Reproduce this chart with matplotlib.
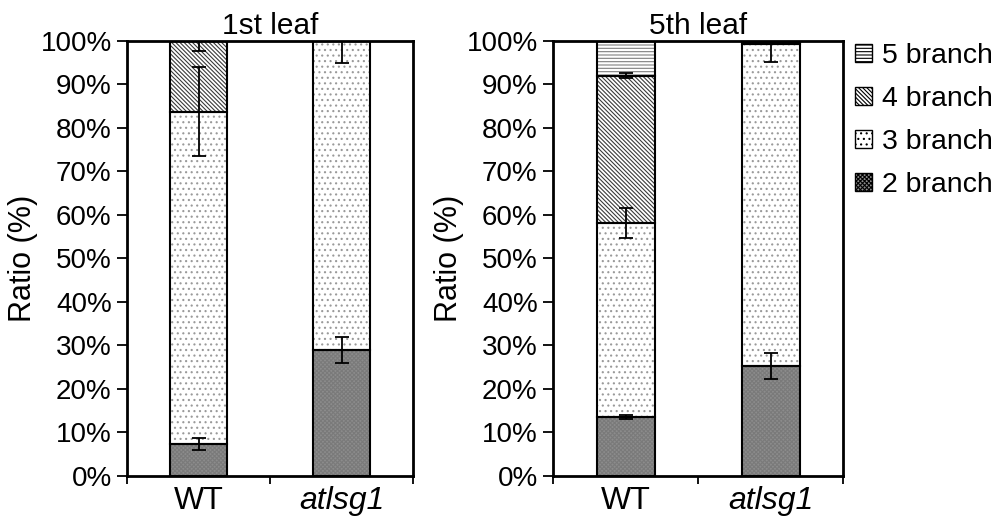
import numpy as np
import matplotlib
matplotlib.use("Agg")
import matplotlib.pyplot as plt
from matplotlib.patches import Patch

plt.rcParams['font.family'] = ['Liberation Sans', 'DejaVu Sans']
plt.rcParams['hatch.linewidth'] = 0.8

# datos (porcentaje por tipo de ramificacion)
categorias = ['WT', 'atlsg1']
series = ['2 branch', '3 branch', '4 branch', '5 branch']

hoja1 = {
    '2 branch': [7.3, 29.0],
    '3 branch': [76.4, 71.0],
    '4 branch': [16.3, 0.0],
    '5 branch': [0.0, 0.0],
}
hoja1_err = {
    '2 branch': [1.4, 3.0],
    '3 branch': [10.2, 5.0],
    '4 branch': [2.4, 0.0],
    '5 branch': [0.0, 0.0],
}
hoja5 = {
    '2 branch': [13.5, 25.3],
    '3 branch': [44.7, 74.0],
    '4 branch': [33.8, 0.4],
    '5 branch': [8.0, 0.3],
}
hoja5_err = {
    '2 branch': [0.5, 3.0],
    '3 branch': [3.5, 4.2],
    '4 branch': [0.6, 0.0],
    '5 branch': [0.0, 0.0],
}

estilos = {
    '2 branch': dict(fc='#8c8c8c', hatch='xxxxxxxx', hc='#7a7a7a'),
    '3 branch': dict(fc='white', hatch='...', hc='#9a9a9a'),
    '4 branch': dict(fc='white', hatch='\\' * 8, hc='#3a3a3a'),
    '5 branch': dict(fc='white', hatch='-----', hc='#808080'),
}

fig = plt.figure(figsize=(10, 5.21), dpi=100)
ax1 = fig.add_axes([0.127, 0.0864, 0.286, 0.835])
ax2 = fig.add_axes([0.553, 0.0864, 0.290, 0.835])

x = np.arange(len(categorias))
ancho = 0.4


def dibujar(ax, datos, errores, titulo):
    base = np.zeros(len(categorias))
    for s in series:
        v = np.array(datos[s])
        e = np.array(errores[s])
        st = estilos[s]
        # relleno con trama de color
        ax.bar(x, v, ancho, bottom=base, color=st['fc'], edgecolor=st['hc'],
               hatch=st['hatch'], linewidth=0, zorder=2)
        # contorno negro
        ax.bar(x, v, ancho, bottom=base, color='none', edgecolor='black',
               linewidth=1.5, zorder=3)
        tope = base + v
        mask = e > 0
        ax.errorbar(x[mask], tope[mask], yerr=e[mask], fmt='none', ecolor='black',
                    elinewidth=1.3, capsize=5, capthick=1.3, zorder=4)
        base = tope
    ax.set_xlim(-0.5, 1.5)
    ax.set_ylim(0, 100)
    ax.set_yticks(np.arange(0, 101, 10))
    ax.set_yticklabels([f'{t}%' for t in range(0, 101, 10)], fontsize=20)
    ax.set_xticks(x)
    ax.set_xticklabels(categorias, fontsize=23)
    ax.get_xticklabels()[1].set_style('italic')
    ax.tick_params(axis='x', which='major', length=0, pad=7)
    ax.set_xticks([-0.5, 0.5, 1.5], minor=True)
    ax.tick_params(axis='x', which='minor', length=6, width=1.3)
    ax.tick_params(axis='y', length=7, width=1.3, pad=4)
    for sp in ax.spines.values():
        sp.set_linewidth(2)
    ax.set_ylabel('Ratio (%)', fontsize=22, labelpad=2)
    ax.set_title(titulo, fontsize=21.5, pad=5)


dibujar(ax1, hoja1, hoja1_err, '1st leaf')
dibujar(ax2, hoja5, hoja5_err, '5th leaf')

handles = []
for s in reversed(series):
    st = estilos[s]
    handles.append(Patch(facecolor=st['fc'], edgecolor='black', hatch=st['hatch'],
                         linewidth=1.0, label=s))
fig.legend(handles=handles, loc='upper left', bbox_to_anchor=(0.855, 0.917),
           frameon=False, fontsize=20.5, handlelength=0.6, handleheight=0.6,
           handletextpad=0.35, labelspacing=0.6, borderaxespad=0, borderpad=0)

plt.savefig('out.png', dpi=100)
